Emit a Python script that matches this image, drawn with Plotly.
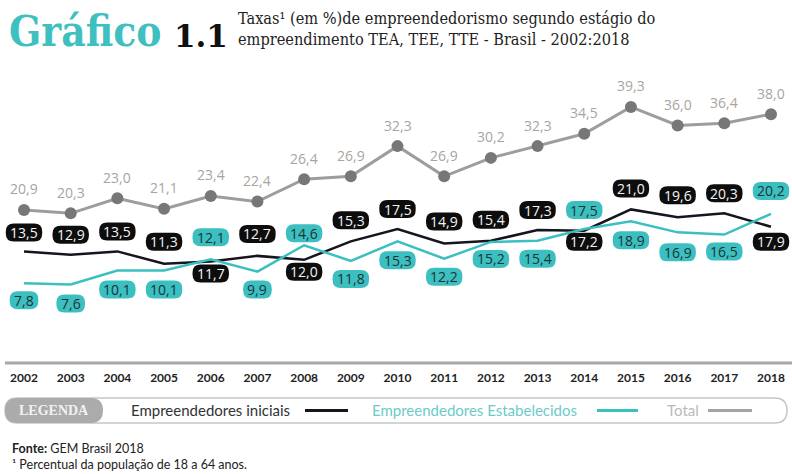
import plotly.graph_objects as go

# ---- data -------------------------------------------------------------
years = list(range(2002, 2019))
total = [20.9, 20.3, 23.0, 21.1, 23.4, 22.4, 26.4, 26.9, 32.3, 26.9,
         30.2, 32.3, 34.5, 39.3, 36.0, 36.4, 38.0]
iniciais = [13.5, 12.9, 13.5, 11.3, 11.7, 12.7, 12.0, 15.3, 17.5, 14.9,
            15.4, 17.3, 17.2, 21.0, 19.6, 20.3, 17.9]
estabelecidos = [7.8, 7.6, 10.1, 10.1, 12.1, 9.9, 14.6, 11.8, 15.3, 12.2,
                 15.2, 15.4, 17.5, 18.9, 16.9, 16.5, 20.2]
year_labels = [str(y) for y in years]

# label box offsets (pixels, + = above the point)
off_ini = [19, 20, 20, 22, -12, 22, -12, 21, 20, 22, 21, 20, -11, 21, 22, 20, -15]
off_est = [-17, -19, -19, -19, 22, -18, 12, -18, -19, -18, -17, -18, 19, -19, -20, -17, 23]
off_tot = 21

# ---- layout geometry ---------------------------------------------------
W, H = 792, 474
TOP, BOT = 75, 363           # plot area in pixels
PX_PER_YEAR = (771 - 24) / 16
X0 = 2002 - 24 / PX_PER_YEAR
X1 = X0 + W / PX_PER_YEAR
Y_PER_PX = 5.6
YMIN = -(BOT - 327) / Y_PER_PX
YMAX = YMIN + (BOT - TOP) / Y_PER_PX

TEAL = "#3bbfc0"
BLACK = "#15151f"
GRAY_LINE = "#9d9d9d"
GRAY_MARK = "#777777"


def px(xp):
    return xp / W


def py(yp):
    return (BOT - yp) / (BOT - TOP)


def fmt(v):
    return f"{v:.1f}".replace(".", ",")


def rounded_path(x0, y0, x1, y1, r, cx=lambda v: v, cy=lambda v: v):
    pts = [
        ("M", [(x0 + r, y0)]),
        ("L", [(x1 - r, y0)]), ("Q", [(x1, y0), (x1, y0 + r)]),
        ("L", [(x1, y1 - r)]), ("Q", [(x1, y1), (x1 - r, y1)]),
        ("L", [(x0 + r, y1)]), ("Q", [(x0, y1), (x0, y1 - r)]),
        ("L", [(x0, y0 + r)]), ("Q", [(x0, y0), (x0 + r, y0)]),
    ]
    out = []
    for cmd, ps in pts:
        out.append(cmd + " ".join(f"{cx(a):.5f},{cy(b):.5f}" for a, b in ps))
    return " ".join(out) + " Z"


fig = go.Figure()

fig.add_trace(go.Scatter(
    x=years, y=total, mode="lines+markers",
    line=dict(color=GRAY_LINE, width=3),
    marker=dict(color=GRAY_MARK, size=12),
    hoverinfo="skip", showlegend=False))
fig.add_trace(go.Scatter(
    x=years, y=iniciais, mode="lines",
    line=dict(color=BLACK, width=2.5),
    hoverinfo="skip", showlegend=False))
fig.add_trace(go.Scatter(
    x=years, y=estabelecidos, mode="lines",
    line=dict(color=TEAL, width=2.5),
    hoverinfo="skip", showlegend=False))

shapes = []
annotations = []

LABEL_FONT = "Open Sans"

# value labels for the total series
for x, v in zip(years, total):
    annotations.append(dict(
        x=x, y=v, xref="x", yref="y", text=fmt(v), showarrow=False,
        yshift=off_tot, font=dict(family=LABEL_FONT, size=14, color="#aaa49e")))


def boxed_labels(values, offsets, fill, text_color):
    for x, v, dy in zip(years, values, offsets):
        s = fmt(v)
        digits = len(s) - 1
        w = 7.8 * digits + 13
        h = 18
        path = rounded_path(-w / 2, dy - h / 2, w / 2, dy + h / 2, 8)
        shapes.append(dict(
            type="path", xref="x", yref="y", xsizemode="pixel", ysizemode="pixel",
            xanchor=x, yanchor=v, path=path, fillcolor=fill,
            line=dict(width=0), layer="above"))
        annotations.append(dict(
            x=x, y=v, xref="x", yref="y", text=s, showarrow=False, yshift=dy,
            font=dict(family=LABEL_FONT, size=14, color=text_color)))


boxed_labels(iniciais, off_ini, "#0d0d0d", "#f4f4f4")
boxed_labels(estabelecidos, off_est, TEAL, "#1c3434")

# baseline under the plot
shapes.append(dict(type="line", xref="paper", yref="paper",
                   x0=px(5), x1=1, y0=0, y1=0,
                   line=dict(color="#a8a8a8", width=3)))

# legend frame
shapes.append(dict(type="path", xref="paper", yref="paper",
                   path=rounded_path(5, 398, 787, 423, 12.5, px, py),
                   fillcolor="white", line=dict(color="#c6c6c6", width=1.5)))
shapes.append(dict(type="path", xref="paper", yref="paper",
                   path=rounded_path(5, 398, 103, 423, 12.5, px, py),
                   fillcolor="#ababab", line=dict(width=0)))
for x0, x1, col in [(305, 348, BLACK), (597, 638, TEAL), (708, 752, "#a3a3a3")]:
    shapes.append(dict(type="line", xref="paper", yref="paper",
                       x0=px(x0), x1=px(x1), y0=py(410.5), y1=py(410.5),
                       line=dict(color=col, width=3)))


def text_at(xp, yp, text, size, color, family="Lato", xanchor="left",
            weight="normal", align="left"):
    annotations.append(dict(
        x=px(xp), y=py(yp), xref="paper", yref="paper", text=text,
        showarrow=False, xanchor=xanchor, yanchor="middle", align=align,
        font=dict(family=family, size=size, color=color, weight=weight)))


text_at(54, 410.5, "LEGENDA", 14, "#f2f2f2", family="Liberation Serif",
        xanchor="center", weight="bold", align="center")
text_at(129, 410, "Empreendedores iniciais", 15, "#333333")
text_at(370, 410, "Empreendedores Estabelecidos", 15, "#6ccaca")
text_at(665, 410, "Total", 15, "#b9b9b9")

# title block
text_at(7, 32, "Gráfico", 42, "#3fc0c0", family="DejaVu Serif Condensed",
        weight="bold")
text_at(172, 36, "1.1", 31, "#111111", family="DejaVu Serif", weight="bold")
text_at(236, 29, "Taxas¹ (em %)de empreendedorismo segundo estágio do<br>"
        "empreendimento TEA, TEE, TTE - Brasil - 2002:2018",
        16.2, "#222222", family="DejaVu Serif Condensed")

# source notes
text_at(10, 456, "<b>Fonte:</b> GEM Brasil 2018<br>"
        "¹ Percentual da população de 18 a 64 anos.", 12.5, "#222222")

fig.update_layout(
    width=W, height=H,
    margin=dict(l=0, r=0, t=TOP, b=H - BOT, pad=0),
    paper_bgcolor="white", plot_bgcolor="white",
    shapes=shapes, annotations=annotations,
    xaxis=dict(range=[X0, X1], tickvals=years, ticktext=year_labels,
               showgrid=False, zeroline=False, showline=False, ticks="",
               ticklabelstandoff=6,
               tickfont=dict(family="Lato", size=12, color="#1e1e1e", weight="bold"),
               fixedrange=True),
    yaxis=dict(range=[YMIN, YMAX], visible=False, showgrid=False,
               zeroline=False, fixedrange=True),
)

fig.write_html("out.html")
